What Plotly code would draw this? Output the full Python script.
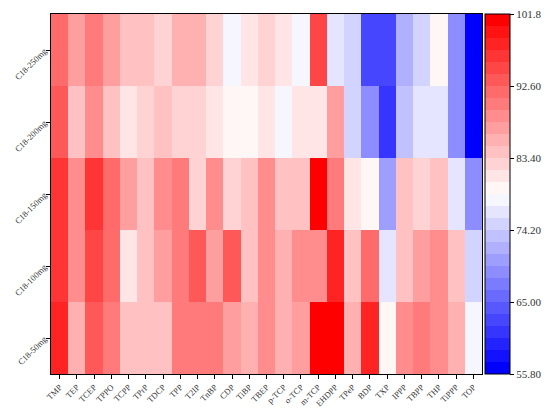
import plotly.graph_objects as go

compounds = ["TMP", "TEP", "TCEP", "TPPO", "TCPP", "TPrP", "TDCP", "TPP", "T2IP", "TnBP",
             "CDP", "TiBP", "TBEP", "p-TCP", "o-TCP", "m-TCP", "EHDPP", "TPeP", "BDP", "TXP",
             "IPPP", "TBPP", "THP", "TiPPP", "TOP"]
doses = ["C18-50mg", "C18-100mg", "C18-150mg", "C18-200mg", "C18-250mg"]

# recovery (%) per sorbent amount, one list per row
rec_50 = [97.9, 85.7, 93.3, 90.0, 84.1, 84.1, 84.1, 90.3, 89.8, 89.8,
          87.2, 85.7, 88.7, 85.7, 87.2, 101.5, 101.8, 85.7, 97.9, 79.5,
          88.7, 90.3, 89.5, 85.7, 78.0]
rec_100 = [96.4, 88.7, 94.9, 91.8, 81.1, 84.1, 87.2, 90.3, 93.3, 87.2,
           93.3, 84.1, 88.7, 85.7, 88.7, 88.7, 97.9, 84.1, 91.8, 76.5,
           84.1, 87.2, 88.7, 84.1, 75.0]
rec_150 = [96.4, 88.7, 96.4, 91.8, 87.2, 84.1, 88.7, 90.3, 82.6, 88.7,
           82.6, 84.1, 88.7, 84.1, 84.1, 101.3, 90.3, 81.1, 79.5, 70.4,
           84.1, 82.6, 84.1, 76.5, 68.8]
rec_200 = [93.3, 83.9, 88.7, 84.1, 81.1, 82.6, 84.1, 82.6, 82.6, 81.1,
           79.5, 79.5, 81.1, 78.0, 81.1, 81.1, 87.2, 75.0, 68.8, 61.2,
           73.4, 76.5, 76.5, 69.5, 56.2]
rec_250 = [91.8, 87.2, 90.3, 87.2, 84.1, 84.1, 82.6, 85.7, 85.7, 82.6,
           78.0, 81.1, 82.6, 81.1, 78.0, 94.9, 76.5, 75.0, 62.7, 62.7,
           71.9, 75.0, 79.5, 69.5, 55.8]

cbar_vals = [55.8, 65.0, 74.2, 83.4, 92.6, 101.8]
cbar_text = ["55.80", "65.00", "74.20", "83.40", "92.60", "101.8"]

# stepped blue-white-red map, 30 bands
n = 30
scale = []
for i in range(n):
    f = i / (n - 1)
    if f < 0.5:
        g = int(round(510 * f))
        c = f"rgb({g},{g},255)"
    else:
        g = int(round(510 * (1 - f)))
        c = f"rgb(255,{g},{g})"
    scale.append([i / n, c])
    scale.append([(i + 1) / n, c])

font = "Liberation Serif"

fig = go.Figure(go.Heatmap(
    z=[rec_50, rec_100, rec_150, rec_200, rec_250],
    x=compounds,
    y=doses,
    zmin=min(cbar_vals), zmax=max(cbar_vals),
    colorscale=scale,
    colorbar=dict(
        tickvals=cbar_vals, ticktext=cbar_text,
        ticks="outside", ticklen=4, tickcolor="black",
        ticklabeloverflow="allow",
        tickfont=dict(family=font, size=11, color="#333"),
        thickness=25, len=1.0, lenmode="fraction",
        x=1.007, xanchor="left", xpad=0, ypad=0,
        y=0.5, yanchor="middle",
        outlinewidth=1, outlinecolor="black",
    ),
))

# page body adds ~8px offset, so margins are shifted up/left
fig.update_layout(
    width=550, height=410,
    margin=dict(l=43, r=76, t=6, b=44, autoexpand=False),
    paper_bgcolor="white", plot_bgcolor="white",
    font=dict(family=font, color="#333"),
)
fig.update_xaxes(
    tickangle=-45, tickfont=dict(family=font, size=8.5),
    ticks="outside", ticklen=4, tickcolor="black", automargin=False,
    showline=True, linecolor="black", linewidth=1, mirror=True,
)
fig.update_yaxes(
    tickangle=-45, tickfont=dict(family=font, size=8.5),
    ticks="outside", ticklen=4, tickcolor="black", automargin=False,
    showline=True, linecolor="black", linewidth=1, mirror=True,
)

fig.write_html("out.html")
